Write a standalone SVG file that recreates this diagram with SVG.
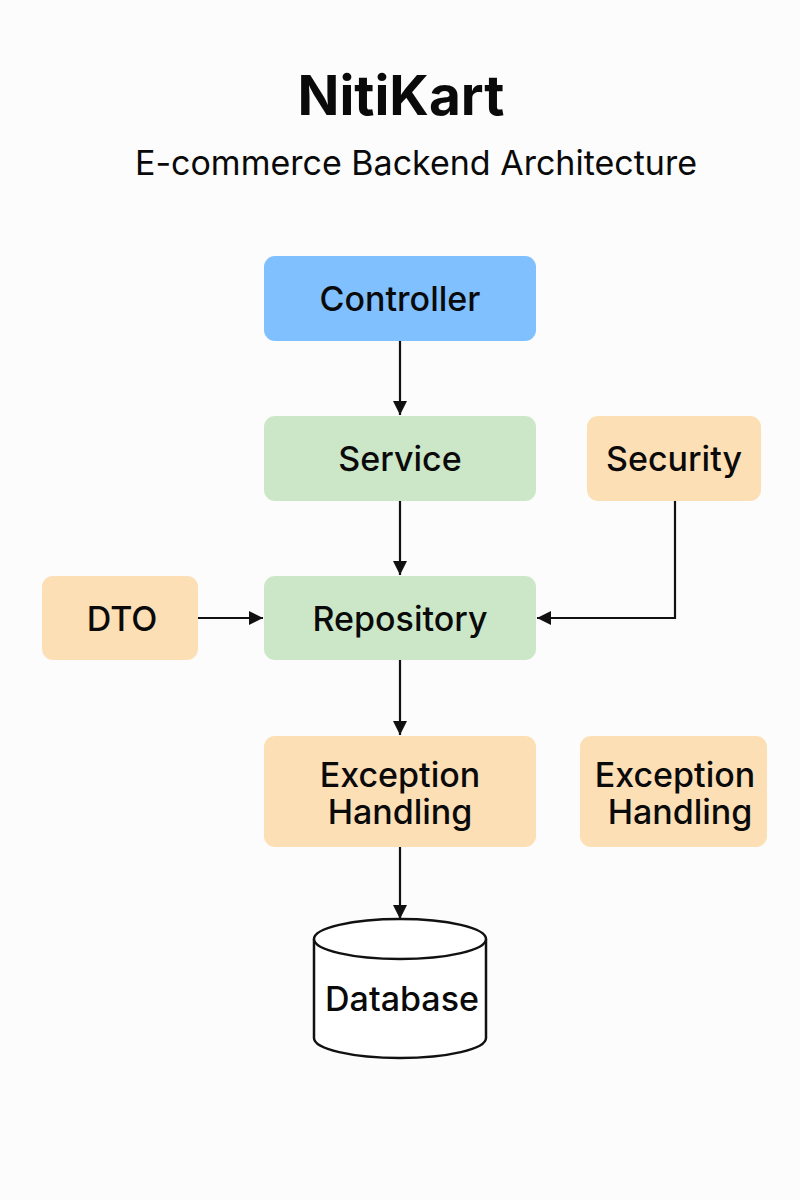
<svg xmlns="http://www.w3.org/2000/svg" width="800" height="1200" viewBox="0 0 800 1200">
  <defs>
    <style>
      .t { font-family: Inter, "Liberation Sans", sans-serif; fill: #0a0a0a; text-anchor: middle; }
      .lbl { font-size: 34px; font-weight: 500; }
      .blue { fill: #80C0FF; }
      .green { fill: #CCE7C7; }
      .orange { fill: #FDDFB6; }
      .edge { stroke: #111; stroke-width: 2.2; fill: none; }
    </style>
    <marker id="arr" markerWidth="14" markerHeight="14" viewBox="0 0 14 14" refX="14" refY="7" orient="auto" markerUnits="userSpaceOnUse">
      <path d="M0,0 L14,7 L0,14 Z" fill="#111"/>
    </marker>
  </defs>
  <rect width="800" height="1200" fill="#FCFCFC"/>

  <g id="title">
    <text class="t" x="401" y="115" font-size="55" font-weight="700">NitiKart</text>
    <text class="t" x="416" y="175" font-size="34">E-commerce Backend Architecture</text>
  </g>

  <g id="edges">
    <line class="edge" x1="400" y1="341" x2="400" y2="415" marker-end="url(#arr)"/>
    <line class="edge" x1="400" y1="501" x2="400" y2="575" marker-end="url(#arr)"/>
    <line class="edge" x1="400" y1="660" x2="400" y2="735" marker-end="url(#arr)"/>
    <line class="edge" x1="400" y1="847" x2="400" y2="919" marker-end="url(#arr)"/>
    <line class="edge" x1="198" y1="618" x2="263" y2="618" marker-end="url(#arr)"/>
    <polyline class="edge" points="675,501 675,618 537,618" marker-end="url(#arr)"/>
  </g>

  <g id="controller">
    <rect class="blue" x="264" y="256" width="272" height="85" rx="11"/>
    <text class="t lbl" x="400" y="311">Controller</text>
  </g>
  <g id="service">
    <rect class="green" x="264" y="416" width="272" height="85" rx="11"/>
    <text class="t lbl" x="400" y="471">Service</text>
  </g>
  <g id="security">
    <rect class="orange" x="587" y="416" width="174" height="85" rx="11"/>
    <text class="t lbl" x="674" y="471">Security</text>
  </g>
  <g id="dto">
    <rect class="orange" x="42" y="576" width="156" height="84" rx="11"/>
    <text class="t lbl" x="122" y="631">DTO</text>
  </g>
  <g id="repository">
    <rect class="green" x="264" y="576" width="272" height="84" rx="11"/>
    <text class="t lbl" x="400" y="631">Repository</text>
  </g>
  <g id="exception1">
    <rect class="orange" x="264" y="736" width="272" height="111" rx="11"/>
    <text class="t lbl" x="400" y="787">Exception</text>
    <text class="t lbl" x="400" y="824">Handling</text>
  </g>
  <g id="exception2">
    <rect class="orange" x="580" y="736" width="187" height="111" rx="11"/>
    <text class="t lbl" x="675" y="787">Exception</text>
    <text class="t lbl" x="680" y="824">Handling</text>
  </g>
  <g id="database">
    <path d="M314,939 L314,1038 A86,20 0 0 0 486,1038 L486,939" fill="#FFFFFF" stroke="#111" stroke-width="2.5"/>
    <ellipse cx="400" cy="939" rx="86" ry="20" fill="#FFFFFF" stroke="#111" stroke-width="2.5"/>
    <text class="t lbl" x="402" y="1011">Database</text>
  </g>
</svg>
